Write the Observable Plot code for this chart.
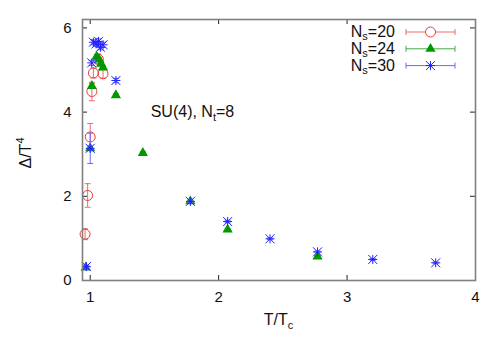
<!DOCTYPE html>
<html><head><meta charset="utf-8">
<script src="https://cdn.jsdelivr.net/npm/d3@7"></script>
<script src="https://cdn.jsdelivr.net/npm/@observablehq/plot@0.6"></script>
<style>
body{margin:0;background:#fff;}
svg{font-family:"Liberation Sans",Arial,sans-serif;}
</style>
</head><body><div id="chart"></div>
<script>
// ---- axes ----
const xDomain = [0.94, 4];
const yDomain = [0, 6.2];
const xTicks = [1, 2, 3, 4];
const yTicks = [0, 2, 4, 6];

// ---- series: N_s = 20 (open circles) ----
const x20 = [0.96, 0.98, 1.0, 1.013, 1.025, 1.063, 1.10];
const y20 = [1.10, 2.02, 3.41, 4.49, 4.93, 5.26, 4.91];
const e20 = [0.13, 0.28, 0.32, 0.22, 0.12, 0.12, 0.10];

// ---- series: N_s = 24 (filled triangles) ----
const x24 = [0.965, 1.0, 1.013, 1.05, 1.07, 1.085, 1.10, 1.2, 1.41, 1.78, 2.07, 2.77];
const y24 = [0.31, 3.14, 4.62, 5.32, 5.25, 5.15, 5.06, 4.40, 3.03, 1.88, 1.21, 0.57];
const e24 = [0.03, 0.05, 0.06, 0.05, 0.05, 0.05, 0.05, 0.04, 0.03, 0.03, 0.03, 0.02];

// ---- series: N_s = 30 (stars) ----
const x30 = [0.97, 1.0, 1.012, 1.025, 1.045, 1.065, 1.08, 1.10, 1.2, 1.78, 2.07, 2.40, 2.77, 3.20, 3.69];
const y30 = [0.33, 3.14, 5.17, 5.66, 5.62, 5.68, 5.54, 5.60, 4.75, 1.88, 1.40, 0.99, 0.68, 0.50, 0.42];
const e30 = [0.03, 0.36, 0.06, 0.06, 0.06, 0.06, 0.06, 0.06, 0.05, 0.03, 0.03, 0.02, 0.02, 0.02, 0.02];

const seriesLabels = ["20", "24", "30"];
const markColors = ["#f03a3a", "#009a00", "#2020ff"];
const barColors = ["#f06a6a", "#4aa84a", "#6a6aff"];

const toRows = (xs, ys, es) => xs.map((x, i) => ({x, y: ys[i], lo: ys[i] - es[i], hi: ys[i] + es[i]}));
const d20 = toRows(x20, y20, e20);
const d24 = toRows(x24, y24, e24);
const d30 = toRows(x30, y30, e30);

const capSymbol = {draw(ctx, size) { const r = Math.sqrt(size / Math.PI); ctx.moveTo(-r, 0); ctx.lineTo(r, 0); }};
const starSymbol = {draw(ctx, size) {
  const r = Math.sqrt(size / Math.PI);
  ctx.moveTo(-r, 0); ctx.lineTo(r, 0);
  ctx.moveTo(0, -r); ctx.lineTo(0, r);
  ctx.moveTo(-r, -r); ctx.lineTo(r, r);
  ctx.moveTo(-r, r); ctx.lineTo(r, -r);
}};

function errMarks(data, color) {
  return [
    Plot.ruleX(data, {x: "x", y1: "lo", y2: "hi", stroke: color, strokeWidth: 1}),
    Plot.dot(data, {x: "x", y: "lo", symbol: capSymbol, r: 3, stroke: color, strokeWidth: 1}),
    Plot.dot(data, {x: "x", y: "hi", symbol: capSymbol, r: 3, stroke: color, strokeWidth: 1})
  ];
}

const W = 500, H = 350, mL = 82, mR = 25, mT = 19, mB = 70;
const innerW = W - mL - mR, innerH = H - mT - mB;
const tickLen = 5;

const plot = Plot.plot({
  width: W, height: H,
  marginLeft: mL, marginRight: mR, marginTop: mT, marginBottom: mB,
  x: {domain: xDomain},
  y: {domain: yDomain},
  style: {fontFamily: "'Liberation Sans', Arial, sans-serif", fontSize: "15px", color: "#111", background: "#fff"},
  marks: [
    Plot.axisX(xTicks, {anchor: "bottom", tickSize: 0, tickPadding: 11, fontSize: 15, label: null, tickFormat: d => String(d)}),
    Plot.axisY(yTicks, {anchor: "left", tickSize: 0, tickPadding: 11, fontSize: 15, label: null, tickFormat: d => String(d)}),
    // inward ticks (bottom, top, left, right)
    Plot.tickX(xTicks, {x: d => d, insetTop: innerH - tickLen, stroke: "#222"}),
    Plot.tickX(xTicks, {x: d => d, insetBottom: innerH - tickLen, stroke: "#222"}),
    Plot.tickY(yTicks, {y: d => d, insetRight: innerW - tickLen, stroke: "#222"}),
    Plot.tickY(yTicks, {y: d => d, insetLeft: innerW - tickLen, stroke: "#222"}),
    ...errMarks(d20, barColors[0]),
    Plot.dot(d20, {x: "x", y: "y", r: 5, stroke: markColors[0], fill: "none", strokeWidth: 1}),
    ...errMarks(d24, barColors[1]),
    Plot.dot(d24, {x: "x", y: "y", r: 3.8, symbol: "triangle", fill: markColors[1], stroke: "none"}),
    ...errMarks(d30, barColors[2]),
    Plot.dot(d30, {x: "x", y: "y", r: 4.5, symbol: starSymbol, stroke: markColors[2], strokeWidth: 1}),
    Plot.frame({stroke: "#808080", strokeWidth: 1.6})
  ]
});
document.getElementById("chart").appendChild(plot);

const svg = d3.select(plot);
const sx = plot.scale("x"), sy = plot.scale("y");
const ff = "'Liberation Sans', Arial, sans-serif";

// x label
const xl = svg.append("text").attr("x", (mL + W - mR) / 2).attr("y", 325)
  .attr("text-anchor", "middle").attr("font-size", 16).attr("font-family", ff).attr("fill", "#111");
xl.append("tspan").text("T/T");
xl.append("tspan").attr("font-size", 11).attr("dy", 4).text("c");

// y label
const yl = svg.append("text").attr("transform", "translate(31,153) rotate(-90)")
  .attr("text-anchor", "middle").attr("font-size", 16).attr("font-family", ff).attr("fill", "#111");
yl.append("tspan").text("Δ/T");
yl.append("tspan").attr("font-size", 11).attr("dy", -7).text("4");

// annotation
const ann = svg.append("text").attr("x", sx.apply(1.80)).attr("y", sy.apply(3.98) + 5)
  .attr("font-size", 16).attr("font-family", ff).attr("fill", "#111");
ann.append("tspan").text("SU(4), N");
ann.append("tspan").attr("font-size", 11).attr("dy", 4).text("t");
ann.append("tspan").attr("dy", -4).text("=8");

// legend
const legY0 = 32, legDy = 16.8, legTextX = 395, lineX1 = 406, lineX2 = 455;
seriesLabels.forEach((lab, i) => {
  const cy = legY0 + i * legDy;
  const t = svg.append("text").attr("x", legTextX).attr("y", cy + 5).attr("text-anchor", "end")
    .attr("font-size", 16).attr("font-family", ff).attr("fill", "#111");
  t.append("tspan").text("N");
  t.append("tspan").attr("font-size", 11).attr("dy", 3).text("s");
  t.append("tspan").attr("dy", -3).text("=" + lab);
  svg.append("line").attr("x1", lineX1).attr("x2", lineX2).attr("y1", cy).attr("y2", cy)
    .attr("stroke", barColors[i]).attr("stroke-width", 1);
  [lineX1, lineX2].forEach(xx => svg.append("line").attr("x1", xx).attr("x2", xx)
    .attr("y1", cy - 3).attr("y2", cy + 3).attr("stroke", barColors[i]));
  const mx = (lineX1 + lineX2) / 2;
  if (i === 0) svg.append("circle").attr("cx", mx).attr("cy", cy).attr("r", 5).attr("fill", "#fff").attr("stroke", markColors[0]);
  if (i === 1) svg.append("path").attr("transform", `translate(${mx},${cy})`)
    .attr("d", d3.symbol(d3.symbolTriangle, Math.PI * 3.8 * 3.8)()).attr("fill", markColors[1]);
  if (i === 2) svg.append("path").attr("transform", `translate(${mx},${cy})`)
    .attr("d", d3.symbol(starSymbol, Math.PI * 4.5 * 4.5)()).attr("fill", "none").attr("stroke", markColors[2]);
});
</script>
</body></html>
